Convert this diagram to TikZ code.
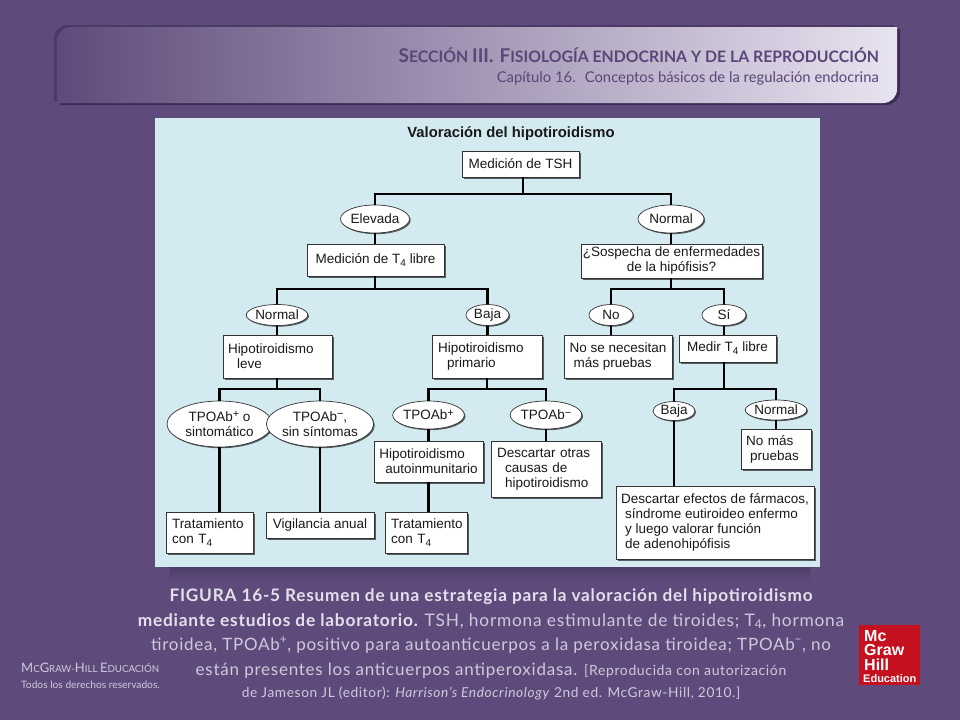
\documentclass[tikz,border=0pt]{standalone}
\usepackage{fontspec}
\usetikzlibrary{shapes.geometric,shadows}
\setmainfont{Liberation Sans}
\newfontfamily\slidefont{Lato}
\newfontfamily\capfont[LetterSpace=4.5]{Lato}
\newfontfamily\logofont{Liberation Sans}

\definecolor{slidebg}{HTML}{5F4B7B}
\definecolor{slidedark}{HTML}{3C2F56}
\definecolor{bandmid}{HTML}{B3A4CB}
\definecolor{bandend}{HTML}{E8E3F0}
\definecolor{bandtext}{HTML}{5A4678}
\definecolor{panelbg}{HTML}{D3EBF0}
\definecolor{capcolor}{HTML}{E4DFEB}
\definecolor{capthin}{HTML}{D0C8DC}
\definecolor{logored}{HTML}{C4101F}

\newcommand{\sz}[1]{\fontsize{#1}{#1}\selectfont}
\newcommand{\tsub}[1]{\raisebox{-3pt}{\sz{10}#1}}
\newcommand{\tsup}[1]{\raisebox{3.5pt}{\sz{11}#1}}

\begin{document}
\begin{tikzpicture}[x=1pt,y=-1pt,
    header band/.style={insert path={(57,103) -- (57,41) .. controls (57,33) and (63,27) .. (71,27) -- (897,27) -- (897,89) .. controls (897,97) and (891,103) .. (883,103) -- cycle}},
    box node/.style={rectangle,draw=black!80,line width=0.7pt,fill=white,inner sep=0pt,text=black!90,
        align=left,font=\fontsize{13.5}{15}\selectfont,drop shadow={shadow xshift=1.5pt,shadow yshift=-1.5pt,opacity=0.6,fill=black}},
    oval node/.style={ellipse,draw=black!80,line width=0.7pt,fill=white,inner sep=0pt,text=black!90,
        align=center,font=\fontsize{13.5}{15}\selectfont,drop shadow={shadow xshift=1.2pt,shadow yshift=-1.2pt,opacity=0.6,fill=black}},
    cap node/.style={anchor=base,inner sep=0pt,text=capthin},
    bus/.style={to path={-| (\tikztotarget)}}]

    \useasboundingbox (0,0) rectangle (960,720);
    \fill[slidebg] (0,0) rectangle (960,720);

    % header band
    \fill[slidedark,shift={(3pt,-2pt)},header band];
    \fill[slidedark!60!slidebg,shift={(-3pt,2pt)},header band];
    \shade[left color=slidebg,middle color=bandmid,right color=bandend,header band];
    \node[anchor=base east,inner sep=0pt,font=\slidefont\bfseries,text=bandtext] (sec) at (879,62.5)
        {\sz{19}S\sz{15.8}ECCIÓN \sz{19}III.\hspace{6pt}F\sz{15.8}ISIOLOGÍA ENDOCRINA Y DE LA REPRODUCCIÓN};
    \node[anchor=base east,inner sep=0pt,font=\slidefont\sz{14.8},text=bandtext] (cap16) at (879,82)
        {Capítulo 16.\hspace{4pt} Conceptos básicos de la regulación endocrina};

    % panel
    \shade[top color=slidedark!50!slidebg,bottom color=slidebg] (170,567) rectangle (810,581);
    \fill[panelbg] (155,118) rectangle (820,567);
    \node[font=\bfseries\sz{14.8},text=black!90,inner sep=0pt] (title) at (511,133.5) {Valoración del hipotiroidismo};

    % tree
    \node[box node,minimum width=117,minimum height=26] (tsh) at (520.5,164) {Medición de TSH};
    \coordinate (j1) at (523,194);
    \node[oval node,minimum width=65,minimum height=28] (elev) at (375,219) {Elevada};
    \node[oval node,minimum width=66,minimum height=28] (norm) at (671,219) {Normal};
    \node[box node,minimum width=137,minimum height=32] (t4) at (375.5,260) {Medición de T\tsub{4} libre};
    \node[box node,minimum width=181,minimum height=34,align=center] (sosp) at (671.5,261) {¿Sospecha de enfermedades\\de la hipófisis?};
    \coordinate (j2) at (375,289);
    \coordinate (j3) at (671,289);
    \node[oval node,minimum width=58,minimum height=21] (norm2) at (277,315) {Normal};
    \node[oval node,minimum width=43,minimum height=21] (baja) at (487.5,315) {Baja};
    \node[oval node,minimum width=44,minimum height=21] (no) at (611,315) {No};
    \node[oval node,minimum width=44,minimum height=21] (si) at (724,315) {Sí};
    \node[box node,minimum height=43,inner xsep=5pt,text width=99pt] (leve) at (277.5,356.5) {Hipotiroidismo\\\hspace*{9pt}leve};
    \node[box node,minimum height=43,inner xsep=6pt,text width=98pt] (prim) at (487,356.5) {Hipotiroidismo\\\hspace*{9pt}primario};
    \node[box node,minimum width=108,minimum height=43] (nonec) at (618,356.5) {No se necesitan\\\hspace*{4pt}más pruebas};
    \node[box node,minimum width=97,minimum height=27] (medir) at (727.5,348.5) {Medir T\tsub{4} libre};
    \coordinate (j4) at (277,389);
    \coordinate (j5) at (487,389);
    \coordinate (j6) at (724,389);
    \node[oval node,minimum width=105,minimum height=46] (tposin) at (219.5,424) {TPOAb\tsup{+} o\\sintomático};
    \node[oval node,minimum width=88,minimum height=46] (tponeg) at (320,424) {TPOAb\tsup{−},\\sin síntomas};
    \node[oval node,minimum width=65,minimum height=28] (tpop) at (428.5,415) {TPOAb\tsup{+}};
    \node[oval node,minimum width=65,minimum height=28] (tpom) at (546,415) {TPOAb\tsup{−}};
    \node[oval node,minimum width=42,minimum height=19] (baja2) at (674,411) {Baja};
    \node[oval node,minimum width=58,minimum height=20] (norm3) at (776,410) {Normal};
    \node[box node,minimum width=109,minimum height=41] (auto) at (428.5,461.5) {Hipotiroidismo\\\hspace*{6pt}autoinmunitario};
    \node[box node,minimum height=56,inner xsep=6pt,text width=98pt] (otras) at (546,469) {Descartar otras\\\hspace*{8pt}causas de\\\hspace*{8pt}hipotiroidismo};
    \node[box node,minimum height=40,inner xsep=5pt,text width=60pt] (nomas) at (776,449) {No más\\\hspace*{4pt}pruebas};
    \node[box node,minimum width=198,minimum height=73] (desc) at (715,522.5) {Descartar efectos de fármacos,\\\hspace*{4pt}síndrome eutiroideo enfermo\\\hspace*{4pt}y luego valorar función\\\hspace*{4pt}de adenohipófisis};
    \node[box node,minimum height=41,inner xsep=6pt,text width=75pt] (trat1) at (209.5,532.5) {Tratamiento\\con T\tsub{4}};
    \node[box node,minimum width=108,minimum height=26] (vig) at (320,525) {Vigilancia anual};
    \node[box node,minimum height=41,inner xsep=6pt,text width=70pt] (trat2) at (426,532.5) {Tratamiento\\con T\tsub{4}};

    \path[draw=black,line width=2.2pt]
        (tsh.south -| j1) edge (j1)
        (j1) edge[bus] (elev)
        (j1) edge[bus] (norm)
        (elev) edge (elev |- t4.north)
        (norm) edge (norm |- sosp.north)
        (j2 |- t4.south) edge (j2)
        (j2) edge[bus] (norm2)
        (j2) edge[bus] (baja)
        (j3 |- sosp.south) edge (j3)
        (j3) edge[bus] (no)
        (j3) edge[bus] (si)
        (norm2) edge (norm2 |- leve.north)
        (baja) edge (baja |- prim.north)
        (no) edge (no |- nonec.north)
        (si) edge (si |- medir.north)
        (j4 |- leve.south) edge (j4)
        (j4) edge[bus] (tposin)
        (j4) edge[bus] (tponeg)
        (j5 |- prim.south) edge (j5)
        (j5) edge[bus] (tpop)
        (j5) edge[bus] (tpom)
        (j6 |- medir.south) edge (j6)
        (j6) edge[bus] (baja2)
        (j6) edge[bus] (norm3)
        (tposin) edge (tposin |- trat1.north)
        (tponeg) edge (tponeg |- vig.north)
        (tpop) edge (tpop |- auto.north)
        (tpop |- auto.south) edge (tpop |- trat2.north)
        (tpom) edge (tpom |- otras.north)
        (baja2) edge (baja2 |- desc.north)
        (norm3) edge (norm3 |- nomas.north)
        ;

    % caption
    \node[cap node,font=\capfont\bfseries\sz{17.2},text=capcolor] (cap1) at (491,601) {FIGURA 16-5 Resumen de una estrategia para la valoración del hipotiroidismo};
    \node[cap node,font=\capfont\sz{17.3}] (cap2) at (491,626) {\textcolor{capcolor}{\bfseries mediante estudios de laboratorio.} TSH, hormona estimulante de tiroides; T\textsubscript{4}, hormona};
    \node[cap node,font=\capfont\sz{17}] (cap3) at (491,650) {tiroidea, TPOAb\textsuperscript{+}, positivo para autoanticuerpos a la peroxidasa tiroidea; TPOAb\textsuperscript{−}, no};
    \node[cap node,font=\capfont\sz{17}] (cap4) at (491,675) {están presentes los anticuerpos antiperoxidasa. {\sz{14}[Reproducida con autorización}};
    \node[cap node,font=\capfont\sz{13.7}] (cap5) at (491,697) {de Jameson JL (editor): \textit{Harrison’s Endocrinology} 2nd ed. McGraw-Hill, 2010.]};

    % footer
    \node[anchor=base west,inner sep=0pt,font=\slidefont,text=capthin] (mgh) at (21,672)
        {\sz{13}M\sz{9.7}C\sz{13}G\sz{9.7}RAW-\sz{13}H\sz{9.7}ILL \sz{13}E\sz{9.7}DUCACIÓN};
    \node[anchor=base west,inner sep=0pt,font=\slidefont\sz{10.2},text=capthin] (rights) at (21,688) {Todos los derechos reservados.};
    \node[rectangle,fill=logored,minimum width=61,minimum height=60,inner sep=0pt] (logo) at (889.5,655) {};
    \node[anchor=north west,inner sep=0pt,align=left,text=white,font=\logofont\bfseries\fontsize{16}{14.5}\selectfont] (logotxt) at (864,630) {Mc\\Graw\\Hill};
    \node[anchor=base west,inner sep=0pt,text=white,font=\logofont\bfseries\sz{11}] (logoedu) at (863,682) {Education};
\end{tikzpicture}
\end{document}
